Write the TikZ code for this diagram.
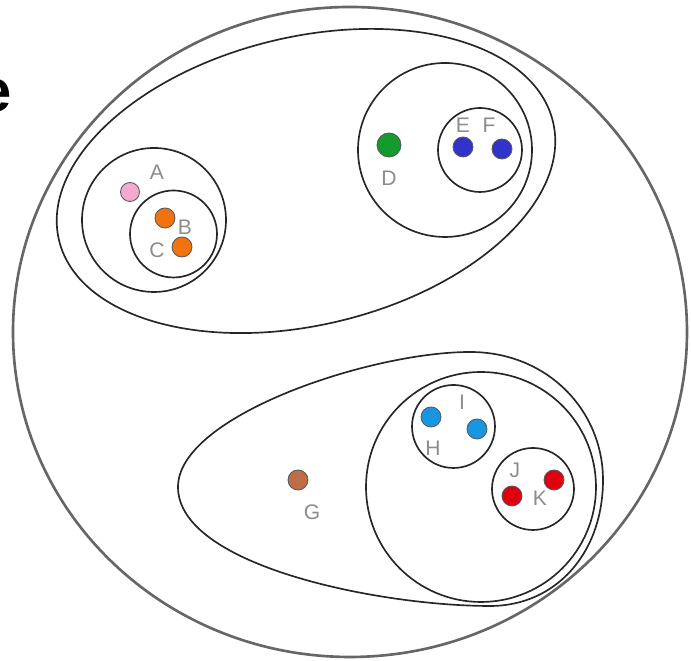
\documentclass[tikz,border=0pt]{standalone}
\usepackage{fontspec}
\setmainfont{Liberation Sans}
\definecolor{pinkA}{RGB}{242,170,205}
\definecolor{orangeBC}{RGB}{240,115,15}
\definecolor{greenD}{RGB}{20,155,45}
\definecolor{blueEF}{RGB}{50,50,205}
\definecolor{brownG}{RGB}{190,110,70}
\definecolor{cyanHI}{RGB}{25,150,225}
\definecolor{redJK}{RGB}{225,0,15}

\begin{document}
\begin{tikzpicture}[x=0.02cm,y=0.02cm,
  ring/.style={draw=black!85,line width=0.95pt},
  member/.style={circle,draw=black!65,line width=0.5pt,inner sep=0pt,minimum size=0.4cm},
  mlabel/.style={text=black!45,font=\fontsize{12}{14}\selectfont,inner sep=0pt}]
\useasboundingbox (0,0) rectangle (691,661);
% cut-off letter at the left edge
\node[anchor=base east,inner sep=0pt,font=\fontsize{34}{40}\selectfont\bfseries] (cut) at (12.5,549) {e};
% outer set and the two big subsets
\draw[black!60,line width=1.5pt] (350,329) ellipse [x radius=337,y radius=325];
\draw[ring,rotate around={13.5:(306,480)}] (306,480) ellipse [x radius=254,y radius=144];
\draw[ring] (178,174) .. controls (178,245) and (370,309) .. (470,309)
  .. controls (548,309) and (603,250) .. (603,181)
  .. controls (603,108) and (556,55) .. (490,55)
  .. controls (380,55) and (178,95) .. (178,174);
% nested clusters
\draw[ring] (154,441) circle (72);
\draw[ring] (173.5,427) circle (43.5);
\draw[ring] (445,511) circle (87);
\draw[ring] (480,511) circle (42);
\draw[ring] (481,174) circle (115);
\draw[ring] (453.5,234.5) circle (41.5);
\draw[ring] (533,172) circle (41);
% points
\node[member,fill=pinkA,minimum size=0.38cm] (A) at (130,469) {};
\node[member,fill=orangeBC] (B) at (165,443) {};
\node[member,fill=orangeBC] (C) at (182,414) {};
\node[member,fill=greenD,minimum size=0.48cm] (D) at (389,516) {};
\node[member,fill=blueEF] (E) at (463,514) {};
\node[member,fill=blueEF] (F) at (502,512) {};
\node[member,fill=brownG] (G) at (298,181) {};
\node[member,fill=cyanHI] (H) at (431,244) {};
\node[member,fill=cyanHI] (I) at (477,232) {};
\node[member,fill=redJK] (J) at (512,165) {};
\node[member,fill=redJK] (K) at (554,181) {};
% names
\node[mlabel] (labA) at (157,489) {A};
\node[mlabel] (labB) at (185,434) {B};
\node[mlabel] (labC) at (157,411) {C};
\node[mlabel] (labD) at (389,483) {D};
\node[mlabel] (labE) at (463,536) {E};
\node[mlabel] (labF) at (489,536) {F};
\node[mlabel] (labG) at (312,149) {G};
\node[mlabel] (labH) at (433,213) {H};
\node[mlabel] (labI) at (462,259) {I};
\node[mlabel] (labJ) at (515,191) {J};
\node[mlabel] (labK) at (540,163) {K};
\end{tikzpicture}
\end{document}
